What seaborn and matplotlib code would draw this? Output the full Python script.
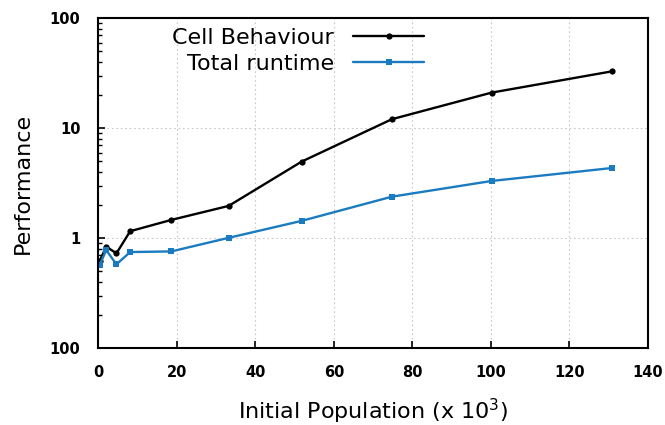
import matplotlib
matplotlib.use("Agg")
import matplotlib.pyplot as plt
import matplotlib.ticker as mticker
from matplotlib.lines import Line2D
import seaborn as sns
import pandas as pd

# Data
population = [0.3, 2.0, 4.6, 8.1, 18.6, 33.2, 51.8, 74.8, 100.2, 131.0]
cell_behaviour = [0.62, 0.84, 0.73, 1.16, 1.47, 1.97, 4.98, 12.1, 21.1, 33.0]
total_runtime = [0.57, 0.78, 0.58, 0.75, 0.76, 1.01, 1.44, 2.39, 3.32, 4.36]
series_names = ["Cell Behaviour", "Total runtime"]
x_ticks = [0, 20, 40, 60, 80, 100, 120, 140]
y_ticks = [0.1, 1, 10, 100]
y_tick_labels = ["100", "1", "10", "100"]

sns.set_style("white")
plt.rcParams['font.family'] = ['DejaVu Sans']
plt.rcParams['text.color'] = 'black'
plt.rcParams['axes.labelcolor'] = 'black'
plt.rcParams['xtick.color'] = 'black'
plt.rcParams['ytick.color'] = 'black'

df = pd.DataFrame({
    "x": population * 2,
    "y": cell_behaviour + total_runtime,
    "series": [series_names[0]] * len(population) + [series_names[1]] * len(population),
})

fig = plt.figure(figsize=(6.65, 4.25), dpi=100)
ax = fig.add_axes([98.4 / 665, 1 - 348.3 / 425, (647.7 - 98.4) / 665, (348.3 - 18.3) / 425])

colors = {series_names[0]: "#000000", series_names[1]: "#1b7bc0"}
sns.lineplot(data=df, x="x", y="y", hue="series", style="series",
             palette=colors, markers={series_names[0]: "o", series_names[1]: "s"},
             dashes=False, markersize=4.5, markeredgewidth=0, linewidth=1.7,
             ax=ax, legend=False)

ax.set_yscale("log")
ax.set_xlim(0, 140)
ax.set_ylim(0.1, 100)
ax.set_xticks(x_ticks)
ax.set_xticklabels([str(t) for t in x_ticks], fontsize=10.5, fontweight="bold")
ax.yaxis.set_major_locator(mticker.FixedLocator(y_ticks))
ax.yaxis.set_major_formatter(mticker.FixedFormatter(y_tick_labels))
ax.yaxis.set_minor_locator(mticker.LogLocator(base=10, subs=range(2, 10)))
ax.yaxis.set_minor_formatter(mticker.NullFormatter())
for lab in ax.get_yticklabels():
    lab.set_fontsize(10.5)
    lab.set_fontweight("bold")

ax.tick_params(axis="both", which="major", direction="in", length=5, width=1.2,
               top=False, right=False, left=True, bottom=True, color="black")
ax.tick_params(axis="x", which="major", pad=12)
ax.tick_params(axis="y", which="major", pad=13)
ax.tick_params(axis="y", which="minor", direction="in", length=3, width=1.0,
               left=True, right=False, color="black")
ax.tick_params(axis="x", which="minor", bottom=False, top=False)

ax.grid(True, which="major", axis="both", linestyle=(0, (1.5, 2.5)), color="#c8c8c8", linewidth=0.8)
ax.set_axisbelow(True)
for sp in ax.spines.values():
    sp.set_color("black")
    sp.set_linewidth(1.5)

ax.set_xlabel("Initial Population (x 10$^3$)", fontsize=16, labelpad=12)
ax.set_ylabel("Performance", fontsize=16, labelpad=12)

handles = [
    Line2D([], [], color="#000000", marker="o", markersize=4.5, markeredgewidth=0, linewidth=1.7),
    Line2D([], [], color="#1b7bc0", marker="s", markersize=4.5, markeredgewidth=0, linewidth=1.7),
]
ax.legend(handles, series_names, loc="upper right", bbox_to_anchor=(0.593, 0.972),
          frameon=False, markerfirst=False, fontsize=16, handlelength=3.2,
          handletextpad=0.85, labelspacing=0.28, borderpad=0, borderaxespad=0)

fig.savefig("out.png", dpi=100)
